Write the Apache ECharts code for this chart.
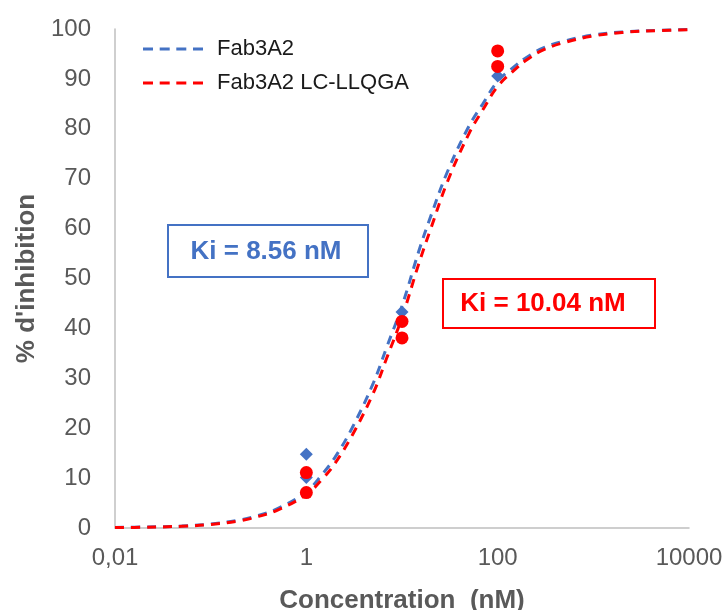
<!DOCTYPE html>
<html>
<head>
<meta charset="utf-8">
<script src="https://cdn.jsdelivr.net/npm/echarts@6/dist/echarts.min.js"></script>
<style>
html,body{margin:0;padding:0;background:#fff;}
#chart{width:728px;height:610px;}
</style>
</head>
<body>
<div id="chart"></div>
<script>
// Concentrations (nM) at which the fitted curves were read
var curveX = [0.01, 0.02, 0.05, 0.1, 0.2, 0.3, 0.5, 1, 1.5, 2, 3, 5, 7, 10, 15, 20, 30, 50, 70, 100, 150, 200, 300, 500, 1000, 2000, 5000, 10000];
// % inhibition
var curveBlue = [0.1, 0.2, 0.4, 0.8, 1.6, 2.4, 3.9, 7.3, 11, 14.2, 20, 29, 36.5, 44.5, 55.5, 62.5, 71.5, 80.5, 85, 89.5, 92.5, 94.3, 96.2, 97.6, 98.8, 99.4, 99.75, 99.9];
var curveRed  = [0.1, 0.15, 0.35, 0.7, 1.45, 2.2, 3.6, 6.7, 10, 13, 18.5, 27, 34.3, 42.2, 53, 60, 69.5, 79, 83.8, 88.5, 91.8, 93.8, 95.8, 97.3, 98.6, 99.3, 99.7, 99.85];
// Measured points
var blueX = [1, 1, 10, 100];
var blueY = [14.8, 10.1, 43.3, 90.6];
var redX = [1, 1, 10, 10, 100, 100];
var redY = [11.1, 7.1, 41.4, 38.1, 95.6, 92.5];
var seriesNames = ['Fab3A2', 'Fab3A2 LC-LLQGA'];
var kiTexts = ['Ki = 8.56 nM', 'Ki = 10.04 nM'];

function pairs(xs, ys) { return xs.map(function (x, i) { return [x, ys[i]]; }); }

var BLUE = '#4472C4', RED = '#FF0000';
var FONT = 'Liberation Sans, Arial, sans-serif';
var DASH_ICON = 'path://M0,0h10v3h-10z M16.7,0h10v3h-10z M33.3,0h10v3h-10z M50,0h10v3h-10z';

var chart = echarts.init(document.getElementById('chart'), null, { renderer: 'canvas' });
chart.setOption({
  animation: false,
  backgroundColor: '#fff',
  textStyle: { fontFamily: FONT },
  grid: { left: 115, right: 39, top: 29, bottom: 82, containLabel: false, outerBoundsMode: 'none' },
  legend: {
    data: [
      { name: seriesNames[0], icon: DASH_ICON, itemStyle: { color: BLUE } },
      { name: seriesNames[1], icon: DASH_ICON, itemStyle: { color: RED } }
    ],
    orient: 'vertical',
    left: 143, top: 38, padding: 0,
    itemWidth: 60, itemHeight: 3, itemGap: 12,
    textStyle: { fontFamily: FONT, fontSize: 22, color: '#1a1a1a', padding: [0, 0, 0, 9] }
  },
  xAxis: {
    type: 'log', logBase: 10, min: 0.01, max: 10000,
    name: 'Concentration  (nM)', nameLocation: 'middle', nameGap: 60,
    nameTextStyle: { fontFamily: FONT, fontSize: 26, fontWeight: 'bold', color: '#595959' },
    axisLine: { show: true, lineStyle: { color: '#BFBFBF', width: 1.5 } },
    axisTick: { show: false },
    splitLine: { show: false },
    minorTick: { show: false },
    axisLabel: {
      fontFamily: FONT, fontSize: 24, color: '#595959', margin: 18,
      formatter: function (v) {
        var e = Math.round(Math.log10(v));
        if (((e % 2) + 2) % 2 !== 0) return '';
        var s = Math.pow(10, e);
        return e < 0 ? s.toFixed(-e).replace('.', ',') : String(s);
      }
    }
  },
  yAxis: {
    type: 'value', min: 0, max: 100, interval: 10,
    name: "% d'inhibition", nameLocation: 'middle', nameGap: 73, nameRotate: 90,
    nameTextStyle: { fontFamily: FONT, fontSize: 26, fontWeight: 'bold', color: '#595959' },
    axisLine: { show: true, lineStyle: { color: '#BFBFBF', width: 1.5 } },
    axisTick: { show: false },
    splitLine: { show: false },
    axisLabel: { fontFamily: FONT, fontSize: 24, color: '#595959', margin: 24 }
  },
  series: [
    {
      name: seriesNames[0], type: 'line', data: pairs(curveX, curveBlue),
      smooth: 0.4, symbol: 'none', color: BLUE,
      lineStyle: { color: BLUE, width: 3, type: [9, 7] }, z: 2
    },
    {
      name: seriesNames[1], type: 'line', data: pairs(curveX, curveRed),
      smooth: 0.4, symbol: 'none', color: RED,
      lineStyle: { color: RED, width: 3, type: [9, 7] }, z: 3
    },
    {
      name: 'Fab3A2 data', type: 'scatter', data: pairs(blueX, blueY),
      symbol: 'diamond', symbolSize: 13, itemStyle: { color: BLUE, opacity: 1 }, z: 4
    },
    {
      name: 'Fab3A2 LC-LLQGA data', type: 'scatter', data: pairs(redX, redY),
      symbol: 'circle', symbolSize: 13, itemStyle: { color: RED, opacity: 1 }, z: 5
    }
  ],
  graphic: [
    { type: 'rect', shape: { x: 168, y: 225, width: 200, height: 52 },
      style: { fill: '#fff', stroke: BLUE, lineWidth: 2 }, z: 10 },
    { type: 'text', x: 266, y: 252, z: 11,
      style: { text: kiTexts[0], fill: BLUE, font: 'bold 26px ' + FONT, textAlign: 'center', textVerticalAlign: 'middle' } },
    { type: 'rect', shape: { x: 443, y: 279, width: 212, height: 49 },
      style: { fill: '#fff', stroke: RED, lineWidth: 2 }, z: 10 },
    { type: 'text', x: 543, y: 304, z: 11,
      style: { text: kiTexts[1], fill: RED, font: 'bold 26px ' + FONT, textAlign: 'center', textVerticalAlign: 'middle' } }
  ]
});
</script>
</body>
</html>
